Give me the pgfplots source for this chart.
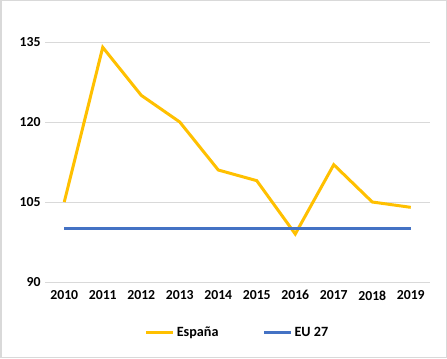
\documentclass[border=0pt]{standalone}
\usepackage{pgfplots}
\pgfplotsset{compat=1.18}
\usepackage{fontspec}
\setmainfont{Carlito}
\definecolor{esp}{HTML}{FFC000}
\definecolor{eu}{HTML}{4472C4}
\definecolor{gridc}{HTML}{D9D9D9}
\begin{document}
\begin{tikzpicture}[x=1bp,y=1bp]
\draw[gridc, line width=1.5bp] (0.75,0.75) rectangle (446.25,357.25);
\begin{axis}[
  at={(45bp,76bp)}, anchor=south west,
  scale only axis, width=385bp, height=240bp,
  xmin=-0.5, xmax=9.5, ymin=90, ymax=135,
  xtick={0,...,9},
  xticklabels={2010,2011,2012,2013,2014,2015,2016,2017,2018,2019},
  ytick={90,105,120,135},
  ymajorgrids, grid style={gridc, line width=0.8bp},
  axis line style={draw=none},
  major tick length=0,
  clip=false,
  font=\fontsize{13.8}{16}\selectfont\bfseries,
  tick label style={font=\fontsize{13.8}{16}\selectfont\bfseries},
  /pgf/number format/assume math mode=true,
  xticklabel style={yshift=-5bp},
  yticklabel style={xshift=-1bp},
  legend columns=2,
  legend style={draw=none, at={(0.5,-0.17)}, anchor=north, font=\fontsize{14.2}{16}\selectfont\bfseries,
    /tikz/every even column/.append style={column sep=42bp}},
  legend image code/.code={\draw[#1] (0bp,0bp) -- (27bp,0bp);},
]
\addplot[esp, line width=3bp, line join=miter] coordinates {(0,105) (1,134) (2,125) (3,120) (4,111) (5,109) (6,99) (7,112) (8,105) (9,104)};
\addlegendentry{España}
\addplot[eu, line width=3bp] coordinates {(0,100) (1,100) (2,100) (3,100) (4,100) (5,100) (6,100) (7,100) (8,100) (9,100)};
\addlegendentry{EU 27}
\end{axis}
\end{tikzpicture}
\end{document}
